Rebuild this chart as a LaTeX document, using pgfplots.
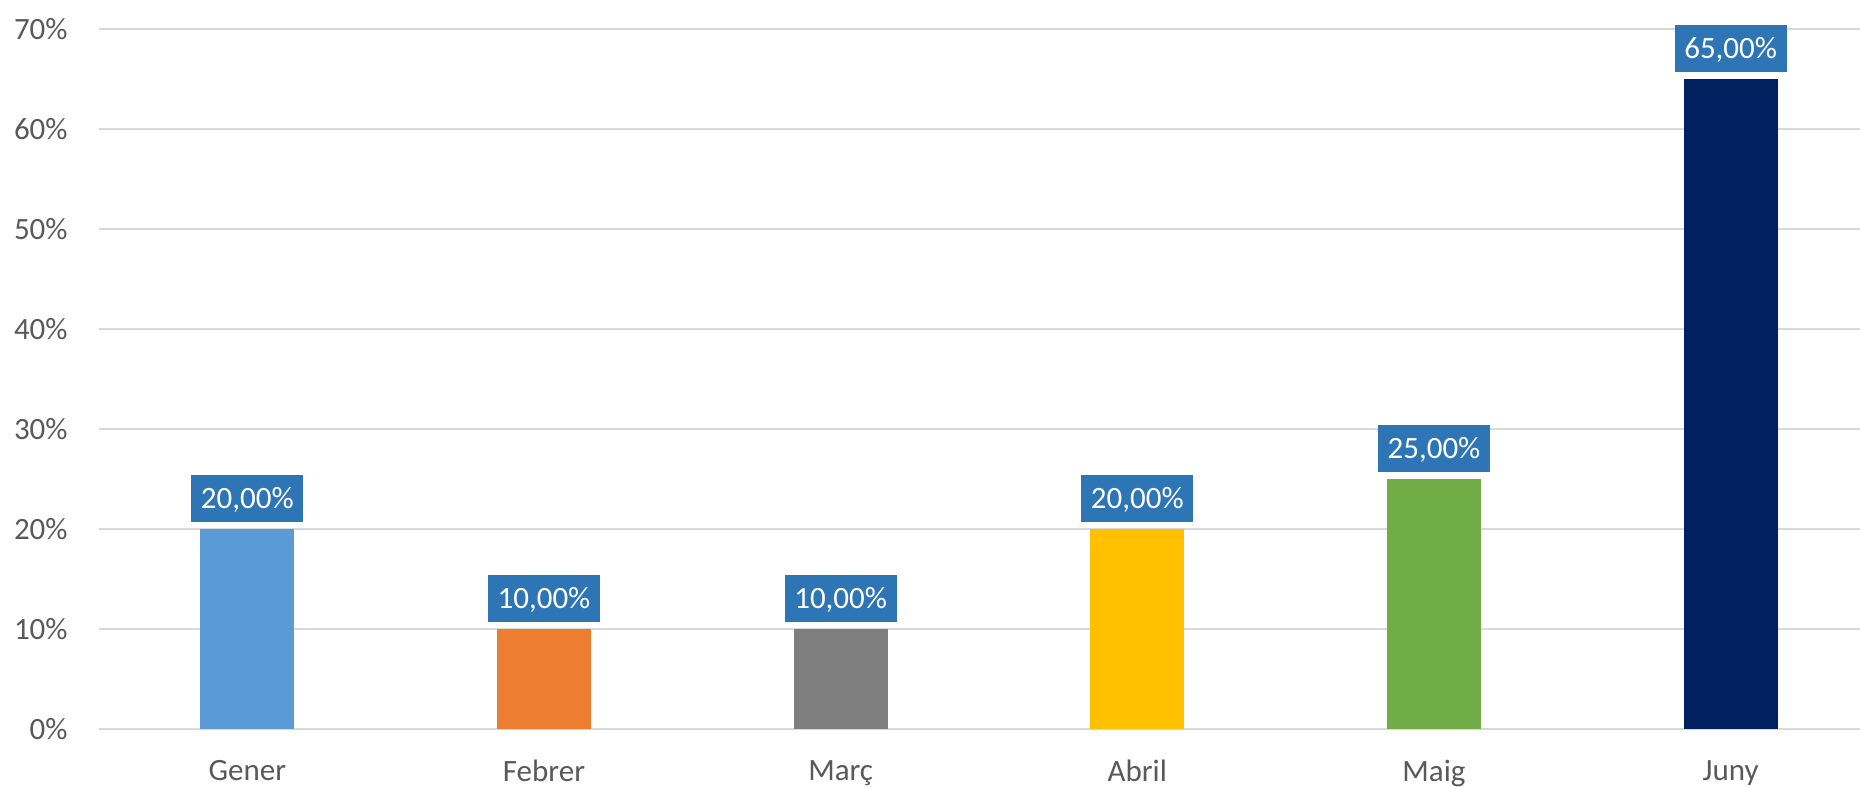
\documentclass[border=0pt]{standalone}
\usepackage{pgfplots}
\pgfplotsset{compat=1.18}
\usepackage{fontspec}
\setmainfont{Carlito}
\definecolor{txt}{HTML}{595959}
\definecolor{grd}{HTML}{D9D9D9}
\definecolor{lbl}{HTML}{2E75B6}
\definecolor{c1}{HTML}{5B9BD5}
\definecolor{c2}{HTML}{ED7D31}
\definecolor{c3}{HTML}{7F7F7F}
\definecolor{c4}{HTML}{FFC000}
\definecolor{c5}{HTML}{70AD47}
\definecolor{c6}{HTML}{002060}
\begin{document}
\begin{tikzpicture}
\begin{axis}[
  scale only axis,
  width=880.5pt, height=350pt,
  xmin=-0.5, xmax=5.436,
  ymin=0, ymax=70,
  axis line style={draw=none},
  major tick length=0pt,
  ytick={0,10,20,30,40,50,60,70},
  yticklabels={0\%,10\%,20\%,30\%,40\%,50\%,60\%,70\%},
  xtick={0,1,2,3,4,5},
  xticklabels={Gener,Febrer,Març,Abril,Maig,Juny},
  ymajorgrids,
  grid style={grd, line width=0.7pt},
  tick label style={font=\fontsize{15.5}{18}\selectfont, text=txt},
  yticklabel style={inner sep=0pt, xshift=-15.5pt},
  xticklabel style={inner sep=0pt, yshift=-15.5pt},
  ybar, bar width=47pt, bar shift=0pt,
  clip=false,
  every node near coord/.append style={anchor=south, yshift=3.5pt, fill=lbl, text=white,
     font=\fontsize{15.5}{18}\selectfont, inner sep=0pt, minimum width=56pt, minimum height=23.5pt, text depth=0pt},
]
\addplot[fill=c1, draw=none, nodes near coords={20,00\%}] coordinates {(0,20)};
\addplot[fill=c2, draw=none, nodes near coords={10,00\%}] coordinates {(1,10)};
\addplot[fill=c3, draw=none, nodes near coords={10,00\%}] coordinates {(2,10)};
\addplot[fill=c4, draw=none, nodes near coords={20,00\%}] coordinates {(3,20)};
\addplot[fill=c5, draw=none, nodes near coords={25,00\%}] coordinates {(4,25)};
\addplot[fill=c6, draw=none, nodes near coords={65,00\%}] coordinates {(5,65)};
\coordinate (sw) at (rel axis cs:0,0);
\coordinate (ne) at (rel axis cs:1,1);
\end{axis}
\pgfresetboundingbox
\path[use as bounding box] ([shift={(-49.5pt,-29pt)}]sw) rectangle ([shift={(0pt,14.5pt)}]ne);
\end{tikzpicture}
\end{document}
